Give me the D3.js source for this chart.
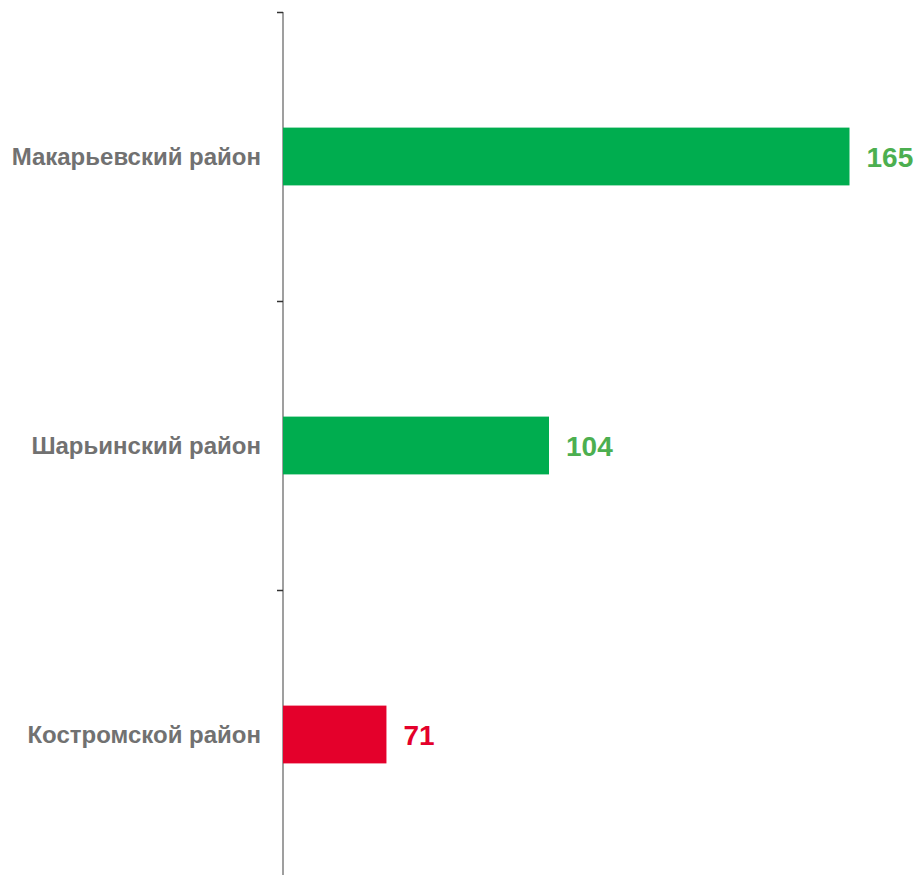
<!DOCTYPE html>
<html lang="ru">
<head>
<meta charset="UTF-8">
<title>Районы</title>
<script src="https://d3js.org/d3.v7.min.js"></script>
<style>
  body { margin: 0; background: #fff; }
  .cat { font-family: "Liberation Sans", Arial, sans-serif; font-weight: bold; font-size: 24px; fill: #717171; }
  .val { font-family: "Liberation Sans", Arial, sans-serif; font-weight: bold; font-size: 28px; }
</style>
</head>
<body>
<script>
  var categories = ["Макарьевский район", "Шарьинский район", "Костромской район"];
  var values = [165, 104, 71];
  var barColors = ["#00ad4f", "#00ad4f", "#e4002b"];
  var labelColors = ["#4caf50", "#4caf50", "#e4002b"];

  var width = 919, height = 875;

  var svg = d3.select("body").append("svg")
      .attr("width", width)
      .attr("height", height);

  var x = d3.scaleLinear()
      .domain([50, 165])
      .range([283, 849.5]);

  var y = d3.scaleBand()
      .domain(categories)
      .range([12, 879])
      .paddingInner(0.8)
      .paddingOuter(0.4);

  // axis line and ticks at band edges
  var step = y.step();
  svg.append("line")
      .attr("x1", 283).attr("x2", 283)
      .attr("y1", 12).attr("y2", height)
      .attr("stroke", "#7f7f7f").attr("stroke-width", 1.5);

  svg.selectAll("line.tick")
      .data(d3.range(categories.length))
      .enter().append("line")
      .attr("class", "tick")
      .attr("x1", 277).attr("x2", 283)
      .attr("y1", function(i) { return 12.5 + i * step; })
      .attr("y2", function(i) { return 12.5 + i * step; })
      .attr("stroke", "#333").attr("stroke-width", 1.5);

  svg.selectAll("rect.bar")
      .data(values)
      .enter().append("rect")
      .attr("class", "bar")
      .attr("x", x(50))
      .attr("y", function(d, i) { return y(categories[i]); })
      .attr("width", function(d) { return x(d) - x(50); })
      .attr("height", y.bandwidth())
      .attr("fill", function(d, i) { return barColors[i]; });

  svg.selectAll("text.cat")
      .data(categories)
      .enter().append("text")
      .attr("class", "cat")
      .attr("x", 261)
      .attr("y", function(d) { return y(d) + y.bandwidth() / 2; })
      .attr("dy", "0.35em")
      .attr("text-anchor", "end")
      .text(function(d) { return d; });

  svg.selectAll("text.val")
      .data(values)
      .enter().append("text")
      .attr("class", "val")
      .attr("x", function(d) { return x(d) + 17; })
      .attr("y", function(d, i) { return y(categories[i]) + y.bandwidth() / 2; })
      .attr("dy", "0.36em")
      .attr("fill", function(d, i) { return labelColors[i]; })
      .text(function(d) { return d; });
</script>
</body>
</html>
